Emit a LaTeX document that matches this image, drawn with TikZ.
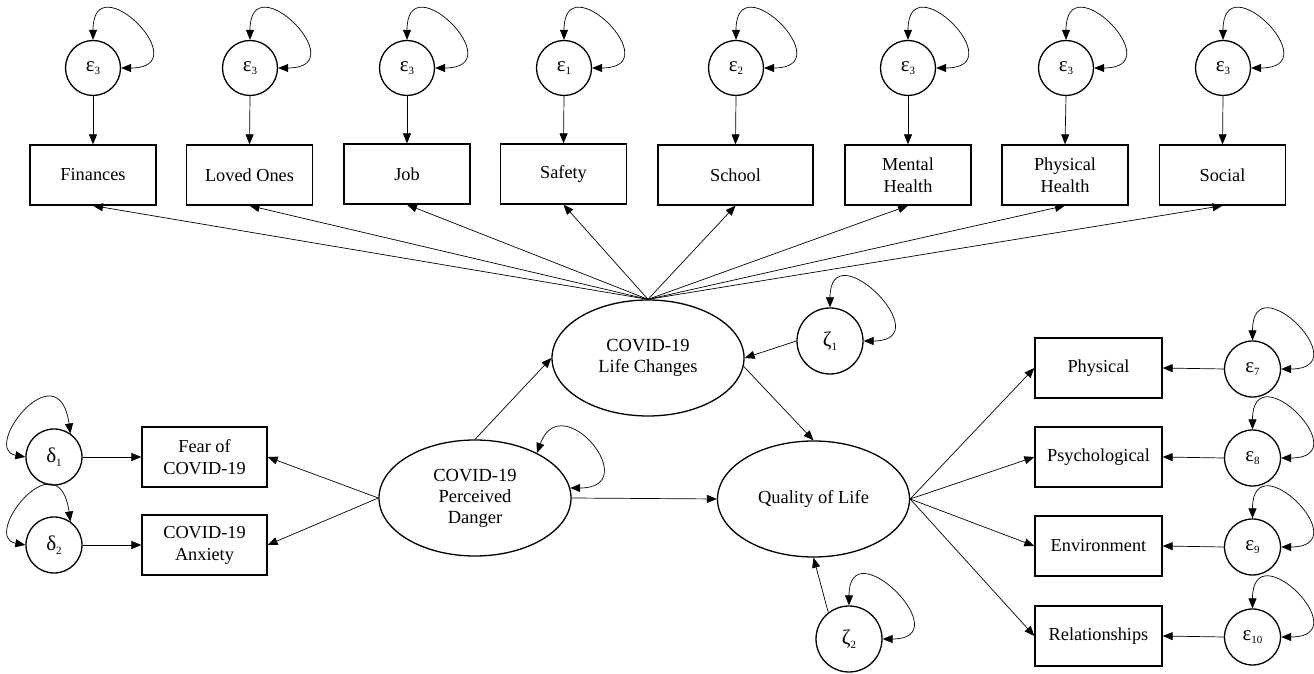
\documentclass[tikz,border=0pt]{standalone}
\usepackage{fontspec}
\setmainfont{Liberation Serif}
\usetikzlibrary{shapes.geometric,arrows.meta}
\newcommand{\mysub}[1]{\raisebox{-3.5pt}{\fontsize{11}{11}\selectfont #1}}
\begin{document}
\begin{tikzpicture}[x=1pt,y=1pt,
  >={Triangle[length=10pt,width=8pt]},
  obsbox/.style={draw, line width=1.3pt, minimum width=126pt, minimum height=60pt, align=center, font=\fontsize{18.3}{22}\selectfont, inner sep=2pt},
  latent/.style={draw, ellipse, line width=1.3pt, minimum width=192pt, minimum height=116pt, align=center, font=\fontsize{18.5}{21}\selectfont, inner sep=0pt},
  errc/.style={draw, circle, line width=1.3pt, minimum size=55pt, inner sep=0pt, font=\fontsize{21}{22}\selectfont},
  distc/.style={errc, minimum size=66pt},
  arr/.style={line width=0.7pt, ->},
  covar/.style={line width=0.7pt, <->},
  loopNE/.style={to path={.. controls +(0,78) and +(78,0) .. (\tikztotarget)}},
]
\useasboundingbox (0,0) rectangle (1314,674);

% top indicators
\node[obsbox] (t1) at (93,499) {Finances};
\node[obsbox] (t2) at (249.5,499) {Loved Ones};
\node[obsbox] (t3) at (407,500) {Job};
\node[obsbox] (t4) at (563.5,500) {Safety};
\node[obsbox, minimum width=155pt] (t5) at (735.5,499) {School};
\node[obsbox] (t6) at (908,499) {Mental\\Health};
\node[obsbox] (t7) at (1065,499) {Physical\\Health};
\node[obsbox] (t8) at (1222.5,499) {Social};

\node[errc] (e1) at (93,606) {ε\mysub{3}};
\node[errc] (e2) at (250,606) {ε\mysub{3}};
\node[errc] (e3) at (407,606) {ε\mysub{3}};
\node[errc] (e4) at (564,606) {ε\mysub{1}};
\node[errc] (e5) at (736,606) {ε\mysub{2}};
\node[errc] (e6) at (908,606) {ε\mysub{3}};
\node[errc] (e7) at (1066,606) {ε\mysub{3}};
\node[errc] (e8) at (1223,606) {ε\mysub{3}};

\foreach \i in {1,...,8}{
  \draw[arr] (e\i.south) -- (t\i.north);
  \draw[covar, loopNE] (e\i.north) to (e\i.east);
}

% latent variables
\node[latent] (lc) at (648,316) {COVID-19\\Life Changes};
\node[latent] (pd) at (475,176) {COVID-19\\Perceived\\Danger};
\node[latent] (qol) at (813.5,175) {Quality of Life};

\node[distc] (z1) at (830,333) {ζ\mysub{1}};
\node[distc] (z2) at (849,35) {ζ\mysub{2}};

\foreach \i in {1,...,8}{
  \draw[arr] (lc.north) -- (t\i.south);
}

\draw[arr] (pd.north) -- (lc.west);
\draw[arr] (z1.west) -- (lc.east);
\draw[arr] (lc.-5) -- (qol.north);
\draw[arr] (pd.east) -- (qol.west);
\draw[arr] (z2.128) -- (qol.south);
\draw[covar, loopNE] (z1.north) to (z1.east);
\draw[covar, loopNE] (z2.north) to (z2.east);
\draw[covar] (pd.36) .. controls +(70:72) and +(75,0) .. (pd.6);

% left side
\node[obsbox, minimum width=125pt] (fear) at (204.5,217) {Fear of\\COVID-19};
\node[obsbox, minimum width=125pt] (anx) at (204.5,129) {COVID-19\\Anxiety};
\node[errc, minimum size=56pt] (d1) at (54,217) {δ\mysub{1}};
\node[errc, minimum size=56pt] (d2) at (54,129) {δ\mysub{2}};

\draw[arr] (d1.east) -- (fear.west);
\draw[arr] (d2.east) -- (anx.west);
\draw[arr] (pd.west) -- (fear.east);
\draw[arr] (pd.west) -- (anx.east);
\draw[covar] (d1.west) .. controls +(-45,8) and +(-12,85) .. (d1.55);
\draw[covar] (d2.west) .. controls +(-45,8) and +(-12,85) .. (d2.55);

% right side
\node[obsbox, minimum width=127pt] (r1) at (1098.5,306) {Physical};
\node[obsbox, minimum width=127pt] (r2) at (1098.5,217) {Psychological};
\node[obsbox, minimum width=127pt] (r3) at (1098.5,128) {Environment};
\node[obsbox, minimum width=127pt] (r4) at (1098.5,38) {Relationships};

\node[errc, minimum size=56pt] (f1) at (1252.5,305) {ε\mysub{7}};
\node[errc, minimum size=56pt] (f2) at (1252.5,216) {ε\mysub{8}};
\node[errc, minimum size=56pt] (f3) at (1252.5,127) {ε\mysub{9}};
\node[errc, minimum size=56pt] (f4) at (1252.5,37) {ε\mysub{10}};

\foreach \i in {1,...,4}{
  \draw[arr] (qol.east) -- (r\i.west);
  \draw[arr] (f\i.west) -- (r\i.east);
  \draw[covar, loopNE] (f\i.north) to (f\i.east);
}
\end{tikzpicture}
\end{document}
